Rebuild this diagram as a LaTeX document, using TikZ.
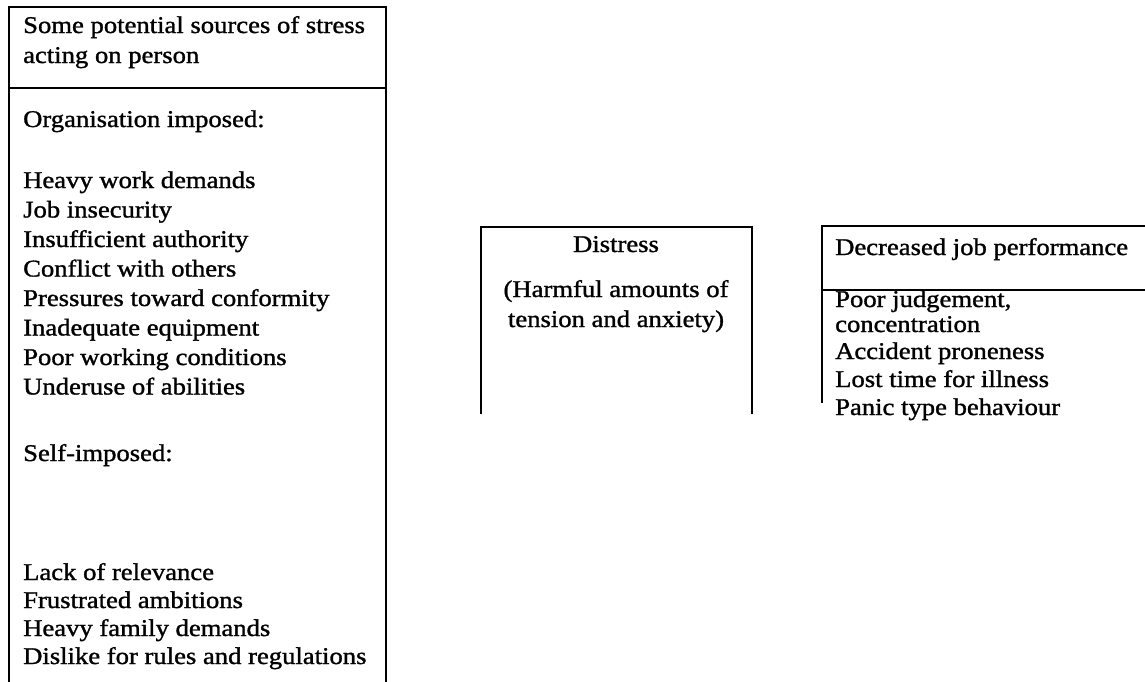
\documentclass[tikz,border=0pt]{standalone}
\usepackage{graphicx}
\usepackage{fontspec}
\setmainfont{Liberation Serif}
\newfontfamily\scanfont{Liberation Serif}[FakeBold=1.2]
\newcommand{\wid}[1]{\scalebox{1.11}[1]{#1}}
\begin{document}
\begin{tikzpicture}[x=1pt,y=-1pt,
  frame/.style={line width=1.6pt,black},
  txt/.style={anchor=base west,inner sep=0pt,font=\scanfont\fontsize{24}{28}\selectfont},
  ctxt/.style={anchor=base,inner sep=0pt,font=\scanfont\fontsize{24}{28}\selectfont}]
\useasboundingbox (0,0) rectangle (1145,681);
% left box
\draw[frame] (9,690) -- (9,7) -- (386,7) -- (386,690);
\draw[frame] (9,88) -- (386,88);
% distress box
\draw[frame] (481,414) -- (481,227) -- (752,227) -- (752,414);
% decreased box
\draw[frame] (822,403) -- (822,226) -- (1150,226);
\draw[frame] (822,290) -- (1150,290);
% left texts
\node[txt] (h1) at (23,33) {\wid{Some potential sources of stress}};
\node[txt] (h2) at (23,63) {\wid{acting on person}};
\node[txt] (org) at (23,127) {\wid{Organisation imposed:}};
\node[txt] (o1) at (23,188) {\wid{Heavy work demands}};
\node[txt] (o2) at (23,217.5) {\wid{Job insecurity}};
\node[txt] (o3) at (23,247) {\wid{Insufficient authority}};
\node[txt] (o4) at (23,276.5) {\wid{Conflict with others}};
\node[txt] (o5) at (23,306) {\wid{Pressures toward conformity}};
\node[txt] (o6) at (23,335.5) {\wid{Inadequate equipment}};
\node[txt] (o7) at (23,365) {\wid{Poor working conditions}};
\node[txt] (o8) at (23,394.5) {\wid{Underuse of abilities}};
\node[txt] (self) at (23,461) {\wid{Self-imposed:}};
\node[txt] (s1) at (23,580) {\wid{Lack of relevance}};
\node[txt] (s2) at (23,608) {\wid{Frustrated ambitions}};
\node[txt] (s3) at (23,636) {\wid{Heavy family demands}};
\node[txt] (s4) at (23,664) {\wid{Dislike for rules and regulations}};
% distress texts
\node[ctxt] (d1) at (616,252) {\wid{Distress}};
\node[ctxt] (d2) at (616,297) {\wid{(Harmful amounts of}};
\node[ctxt] (d3) at (616,327) {\wid{tension and anxiety)}};
% decreased texts
\node[txt] (p0) at (835,255) {\wid{Decreased job performance}};
\node[txt] (p1) at (835,307) {\wid{Poor judgement,}};
\node[txt] (p2) at (835,332) {\wid{concentration}};
\node[txt] (p3) at (835,359) {\wid{Accident proneness}};
\node[txt] (p4) at (835,387) {\wid{Lost time for illness}};
\node[txt] (p5) at (835,415) {\wid{Panic type behaviour}};
\end{tikzpicture}
\end{document}
